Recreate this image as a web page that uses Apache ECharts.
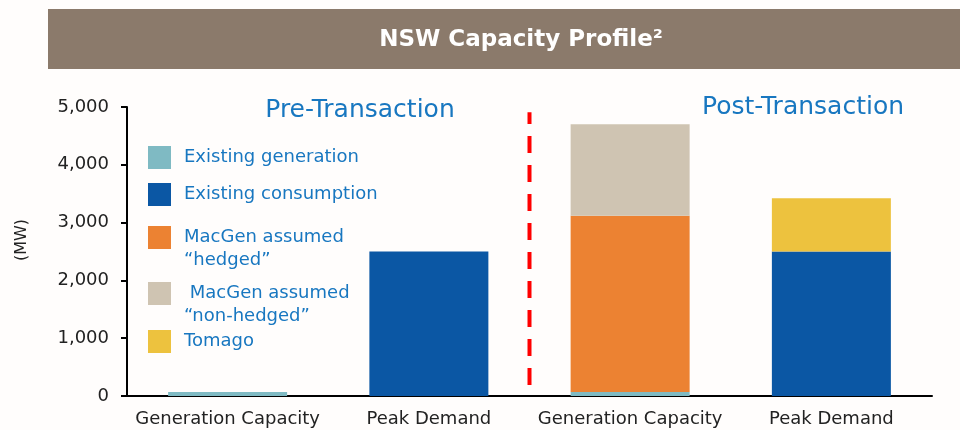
<!DOCTYPE html>
<html>
<head>
<meta charset="utf-8">
<script src="https://cdn.jsdelivr.net/npm/echarts@6/dist/echarts.min.js"></script>
<style>
  html, body { margin: 0; padding: 0; background: #fffdfc; }
  #main { width: 960px; height: 430px; }
</style>
</head>
<body>
<div id="main"></div>
<script>
// categories (x axis)
var categories = ['Generation Capacity', 'Peak Demand', 'Generation Capacity', 'Peak Demand'];
// stacked values, MW
var existingGen = [70, '-', 70, '-'];
var existingCons = ['-', 2500, '-', 2500];
var macgenHedged = ['-', '-', 3050, '-'];
var macgenNonHedged = ['-', '-', 1580, '-'];
var tomago = ['-', '-', '-', 920];
var yTicks = [0, 1000, 2000, 3000, 4000, 5000];

var names = ['Existing generation', 'Existing consumption', 'MacGen assumed\n\u201chedged\u201d', ' MacGen assumed\n\u201cnon-hedged\u201d', 'Tomago'];
var colors = ['#7fbac3', '#0b57a4', '#ec8232', '#cfc4b2', '#edc23e'];
var legendTops = [146, 183, 226, 282, 330];

var FONT = 'DejaVu Sans';
var BLUE_TXT = '#1877c0';

var myChart = echarts.init(document.getElementById('main'));

var graphics = [{
  type: 'rect',
  shape: { x: 48, y: 9, width: 912, height: 60 },
  style: { fill: '#8b7a6b' }
}, {
  type: 'text',
  x: 521, y: 40,
  style: {
    text: 'NSW Capacity Profile\u00b2',
    fill: '#ffffff',
    font: 'bold 23px "DejaVu Sans"',
    align: 'center',
    verticalAlign: 'middle'
  }
}, {
  type: 'text',
  x: 360, y: 110,
  style: { text: 'Pre-Transaction', fill: BLUE_TXT, font: '25px "DejaVu Sans"', align: 'center', verticalAlign: 'middle' }
}, {
  type: 'text',
  x: 803, y: 107,
  style: { text: 'Post-Transaction', fill: BLUE_TXT, font: '25px "DejaVu Sans"', align: 'center', verticalAlign: 'middle' }
}, {
  type: 'text',
  x: 22, y: 240,
  rotation: Math.PI / 2,
  style: { text: '(MW)', fill: '#222', font: '16px "DejaVu Sans"', align: 'center', verticalAlign: 'middle' }
}];

// 每个图例单独放一个，位置不均匀；第二行文字用graphic
var legends = [];
for (var i = 0; i < names.length; i++) {
  var lines = names[i].split('\n');
  legends.push({
    data: [names[i]],
    left: 148,
    top: legendTops[i],
    padding: 0,
    icon: 'rect',
    itemWidth: 23,
    itemHeight: 23,
    selectedMode: false,
    formatter: function (name) {
      return name.split('\n')[0];
    },
    textStyle: {
      color: BLUE_TXT,
      fontFamily: FONT,
      fontSize: 18,
      padding: [0, 0, 0, 8]
    }
  });
  if (lines.length > 1) {
    graphics.push({
      type: 'text',
      x: 184, y: legendTops[i] + 11.5 + 23,
      style: { text: lines[1], fill: BLUE_TXT, font: '18px "DejaVu Sans"', verticalAlign: 'middle' }
    });
  }
}

var seriesData = [existingGen, existingCons, macgenHedged, macgenNonHedged, tomago];
var series = [];
for (var j = 0; j < names.length; j++) {
  series.push({
    name: names[j],
    type: 'bar',
    stack: 'total',
    barWidth: 119,
    itemStyle: { color: colors[j] },
    data: seriesData[j]
  });
}

// 红色虚线分隔
series.push({
  name: 'divider',
  type: 'line',
  xAxisIndex: 1,
  symbol: 'none',
  silent: true,
  lineStyle: { color: '#ff0000', width: 4, type: [17, 12] },
  data: [[2, 190], [2, 4910]]
});

var option = {
  backgroundColor: '#fffdfc',
  animation: false,
  graphic: graphics,
  legend: legends,
  grid: { left: 127, right: 28, top: 107, bottom: 34 },
  xAxis: [{
    type: 'category',
    data: categories,
    axisLine: { lineStyle: { color: '#000', width: 2 } },
    axisTick: { show: false },
    axisLabel: { color: '#222', fontFamily: FONT, fontSize: 18, margin: 14, interval: 0 }
  }, {
    type: 'value',
    min: 0,
    max: 4,
    show: false
  }],
  yAxis: {
    type: 'value',
    min: yTicks[0],
    max: yTicks[yTicks.length - 1],
    interval: 1000,
    splitLine: { show: false },
    axisLine: { show: true, lineStyle: { color: '#000', width: 2 } },
    axisTick: { show: true, length: 6, lineStyle: { color: '#000', width: 2 } },
    axisLabel: {
      color: '#222', fontFamily: FONT, fontSize: 18, margin: 18,
      formatter: function (v) { return v.toLocaleString('en-US'); }
    }
  },
  series: series
};
myChart.setOption(option);
</script>
</body>
</html>
